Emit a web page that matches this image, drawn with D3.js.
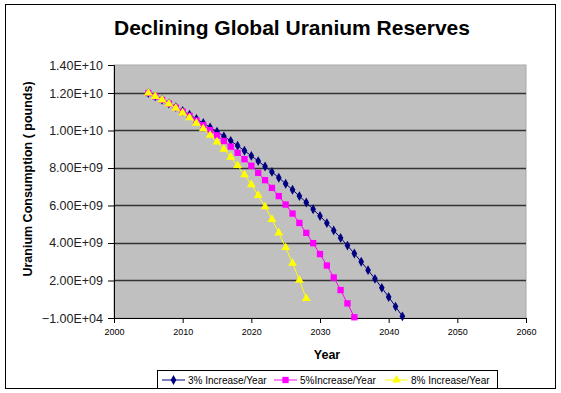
<!DOCTYPE html>
<html>
<head>
<meta charset="utf-8">
<script src="https://cdn.jsdelivr.net/npm/d3@7/dist/d3.min.js"></script>
<style>
  body { margin: 0; background: #fff; }
  svg { font-family: Arial, "Liberation Sans", sans-serif; }
</style>
</head>
<body>
<svg id="chart" width="561" height="393"></svg>
<script>
// values (pounds), one point per year from 2005
var years3 = d3.range(2005, 2043);
var reserves3 = [12.00e9, 11.82e9, 11.64e9, 11.44e9, 11.25e9, 11.04e9, 10.84e9, 10.62e9, 10.40e9, 10.17e9,
                 9.94e9, 9.69e9, 9.45e9, 9.19e9, 8.92e9, 8.65e9, 8.37e9, 8.08e9, 7.79e9, 7.48e9,
                 7.16e9, 6.84e9, 6.50e9, 6.16e9, 5.80e9, 5.44e9, 5.06e9, 4.67e9, 4.27e9, 3.86e9,
                 3.44e9, 3.00e9, 2.55e9, 2.09e9, 1.61e9, 1.12e9, 0.61e9, 0.09e9];
var years5 = d3.range(2005, 2036);
var reserves5 = [12.00e9, 11.82e9, 11.63e9, 11.43e9, 11.22e9, 11.01e9, 10.78e9, 10.53e9, 10.28e9, 10.02e9,
                 9.74e9, 9.44e9, 9.14e9, 8.81e9, 8.47e9, 8.12e9, 7.74e9, 7.35e9, 6.94e9, 6.50e9,
                 6.05e9, 5.57e9, 5.07e9, 4.54e9, 3.99e9, 3.41e9, 2.80e9, 2.16e9, 1.49e9, 0.78e9,
                 0.04e9];
var years8 = d3.range(2005, 2029);
var reserves8 = [12.00e9, 11.82e9, 11.63e9, 11.42e9, 11.19e9, 10.94e9, 10.68e9, 10.39e9, 10.09e9, 9.75e9,
                 9.39e9, 9.00e9, 8.58e9, 8.13e9, 7.64e9, 7.11e9, 6.54e9, 5.93e9, 5.26e9, 4.54e9,
                 3.76e9, 2.92e9, 2.02e9, 1.04e9];
var seriesNames = ["3% Increase/Year", "5%Increase/Year", "8% Increase/Year"];
var xTicks = [2000, 2010, 2020, 2030, 2040, 2050, 2060];
var yTicks = [-1e4, 2e9, 4e9, 6e9, 8e9, 1e10, 1.2e10, 1.4e10];

var svg = d3.select("#chart");
var plot = {left: 114, right: 526, top: 65, bottom: 318};

//outer chart border
svg.append("rect").attr("x", 5.5).attr("y", 4.5).attr("width", 550).attr("height", 384)
   .attr("fill", "#fff").attr("stroke", "#000").attr("stroke-width", 1);

svg.append("text").attr("x", 292).attr("y", 35).attr("text-anchor", "middle")
   .attr("font-size", 21).attr("font-weight", "bold").text("Declining Global Uranium Reserves");

var x = d3.scaleLinear().domain([2000, 2060]).range([plot.left, plot.right]);
// the picture's top band is squeezed, so the scale is piecewise
var y = d3.scaleLinear().domain([-1e4, 1.2e10, 1.4e10]).range([plot.bottom, 93, plot.top]);

//plot area
svg.append("rect").attr("x", plot.left).attr("y", plot.top)
   .attr("width", plot.right - plot.left).attr("height", plot.bottom - plot.top)
   .attr("fill", "#c0c0c0").attr("stroke", "#a8a8a8");

//gridlines
svg.append("g").selectAll("line").data(yTicks.slice(1, -1)).enter().append("line")
   .attr("x1", plot.left).attr("x2", plot.right)
   .attr("y1", function(d) { return Math.round(y(d)) + 0.5; })
   .attr("y2", function(d) { return Math.round(y(d)) + 0.5; })
   .attr("stroke", "#333").attr("stroke-width", 1.6);

function sci(d) {
    var s = d3.format(".2e")(d).toUpperCase();
    return s.replace(/E([+-])(\d)$/, "E$10$2");
}

var yAxis = d3.axisLeft(y).tickValues(yTicks).tickFormat(sci).tickSize(6).tickPadding(5);
var gy = svg.append("g").attr("transform", "translate(" + plot.left + ",0)").call(yAxis);
gy.select(".domain").attr("stroke", "#000");
gy.selectAll("line").attr("stroke", "#000");
gy.selectAll("text").attr("font-size", 12.5).attr("font-family", "Arial, 'Liberation Sans', sans-serif").attr("fill", "#222");

var xAxis = d3.axisBottom(x).tickValues(xTicks).tickFormat(d3.format("d")).tickSize(5).tickPadding(6);
var gx = svg.append("g").attr("transform", "translate(0," + plot.bottom + ")").call(xAxis);
gx.select(".domain").attr("stroke", "#000");
gx.selectAll("line").attr("stroke", "#000");
gx.selectAll("text").attr("font-size", 9).attr("font-family", "Arial, 'Liberation Sans', sans-serif").attr("fill", "#000");

svg.append("text").attr("x", 327).attr("y", 359).attr("text-anchor", "middle")
   .attr("font-size", 12.5).attr("font-weight", "bold").text("Year");
svg.append("text").attr("transform", "translate(32,179) rotate(-90)").attr("text-anchor", "middle")
   .attr("font-size", 12.5).attr("font-weight", "bold").text("Uranium Consumption ( pounds)");

var diamond = d3.symbol().type(d3.symbolDiamond).size(28);
var square = d3.symbol().type(d3.symbolSquare).size(40);
var triangle = d3.symbol().type(d3.symbolTriangle).size(34);

var series = [
    {years: years3, vals: reserves3, color: "#000080", sym: diamond},
    {years: years5, vals: reserves5, color: "#ff00ff", sym: square},
    {years: years8, vals: reserves8, color: "#ffff00", sym: triangle}
];

var line = d3.line().x(function(d) { return x(d[0]); }).y(function(d) { return y(d[1]); });

series.forEach(function(s) {
    var pts = d3.zip(s.years, s.vals);
    svg.append("path").datum(pts).attr("d", line)
       .attr("fill", "none").attr("stroke", s.color).attr("stroke-width", 1);
    svg.append("g").selectAll("path").data(pts).enter().append("path")
       .attr("d", s.sym)
       .attr("transform", function(d) { return "translate(" + x(d[0]) + "," + y(d[1]) + ")"; })
       .attr("fill", s.color);
});

//legend
var legend = svg.append("g");
legend.append("rect").attr("x", 157.5).attr("y", 370.5).attr("width", 340).attr("height", 18)
   .attr("fill", "#fff").attr("stroke", "#000");
var legendX = [162, 274, 385];
series.forEach(function(s, i) {
    var lg = legend.append("g").attr("transform", "translate(" + legendX[i] + ",380)");
    lg.append("line").attr("x1", 0).attr("x2", 23).attr("stroke", s.color).attr("stroke-width", 1);
    lg.append("path").attr("d", s.sym).attr("transform", "translate(11.5,0)").attr("fill", s.color);
    lg.append("text").attr("x", 26).attr("y", 4).attr("font-size", 10).text(seriesNames[i]);
});
</script>
</body>
</html>
